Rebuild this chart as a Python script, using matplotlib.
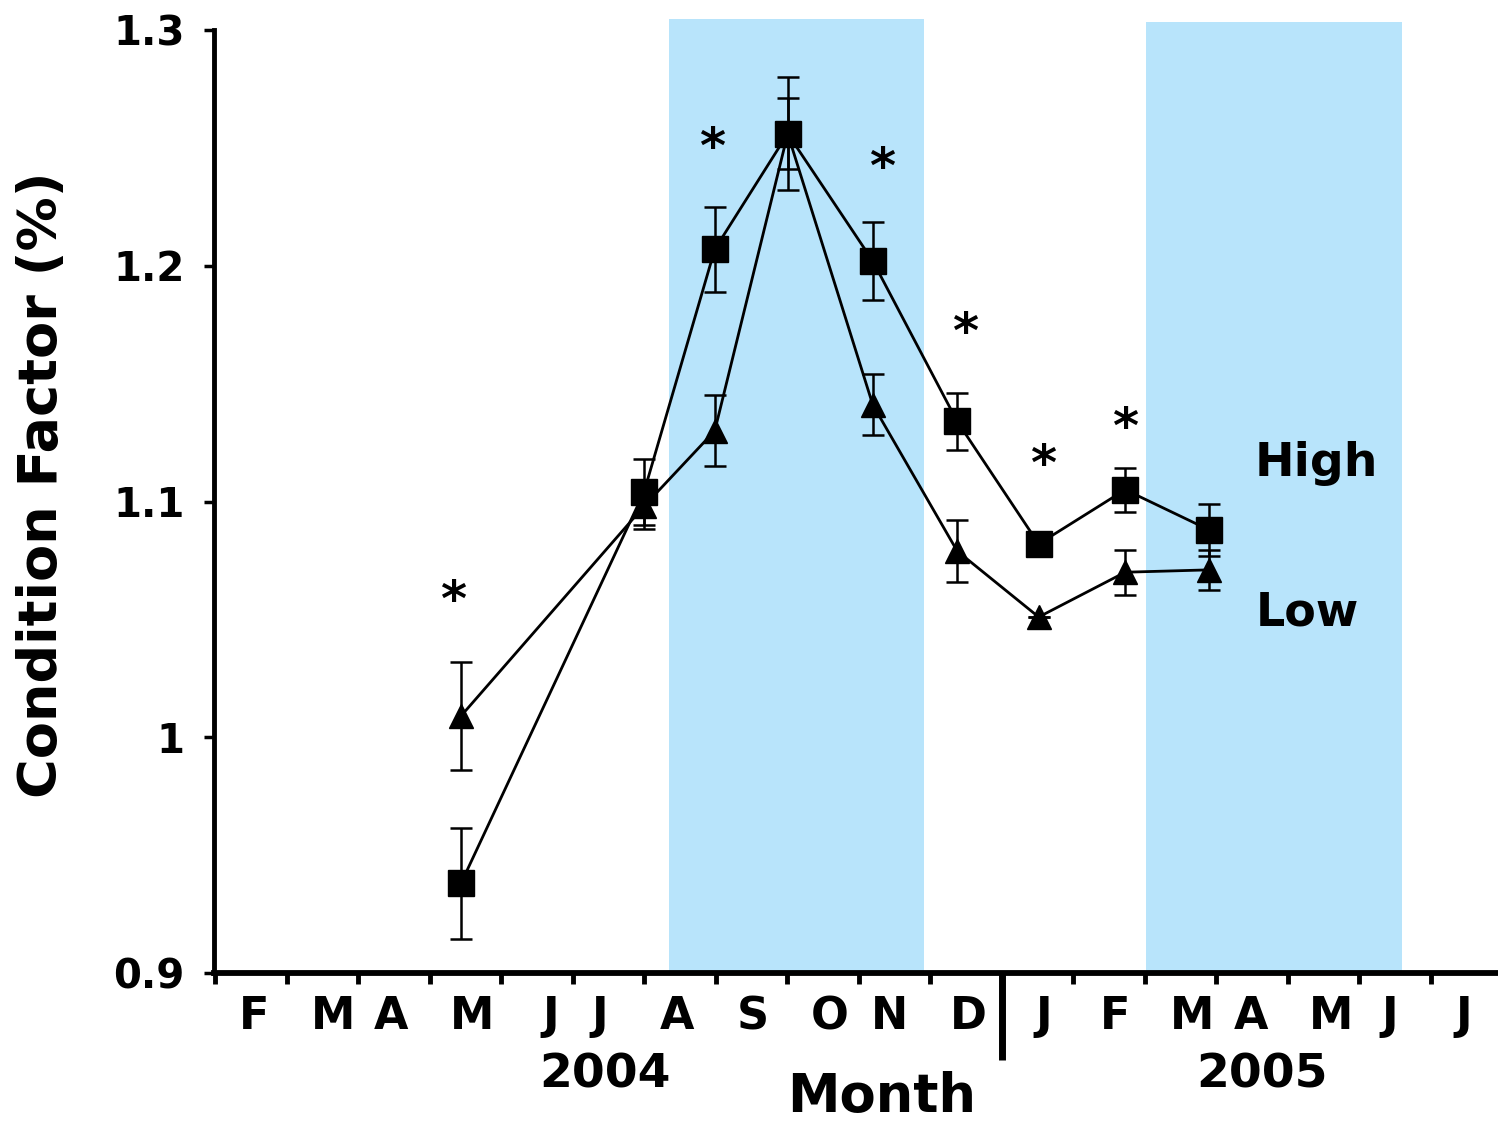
import matplotlib
matplotlib.use("Agg")
import matplotlib.pyplot as plt
from matplotlib.lines import Line2D
from matplotlib.patches import Rectangle
import matplotlib.transforms as mtransforms

# ---- data -------------------------------------------------------------
# sampling times, in months from the start of February 2004
sample_x = [3.44, 6.00, 6.99, 8.01, 9.20, 10.38, 11.52, 12.73, 13.90]

high_mean = [0.938, 1.104, 1.207, 1.256, 1.202, 1.134, 1.082, 1.105, 1.088]
high_se = [0.0235, 0.014, 0.018, 0.024, 0.0165, 0.012, 0.0, 0.0093, 0.011]

low_mean = [1.009, 1.098, 1.130, 1.256, 1.141, 1.079, 1.051, 1.070, 1.071]
low_se = [0.023, 0.0095, 0.015, 0.015, 0.013, 0.013, 0.0, 0.0095, 0.0085]

# months with a significant High/Low difference (asterisk positions)
sig_x = [3.33, 6.95, 9.33, 10.49, 11.58, 12.73]
sig_y = [1.061, 1.253, 1.2445, 1.1746, 1.1186, 1.1343]

month_labels = ["F", "M", "A", "M", "J", "J", "A", "S", "O", "N", "D",
                "J", "F", "M", "A", "M", "J", "J"]
month_label_pos = [0.55, 1.65, 2.46, 3.59, 4.69, 5.38, 6.46, 7.52, 8.60,
                   9.44, 10.53, 11.59, 12.59, 13.66, 14.49, 15.61, 16.43, 17.46]

# shaded seasons (start, end) in the same month units
seasons = [(6.35, 9.92), (13.02, 16.60)]

yticks = [0.9, 1.0, 1.1, 1.2, 1.3]
ytick_labels = ["0.9", "1", "1.1", "1.2", "1.3"]

# ---- figure -----------------------------------------------------------
FONT = "DejaVu Sans"
plt.rcParams["font.family"] = [FONT]
plt.rcParams["font.weight"] = "bold"

fig = plt.figure(figsize=(14.98, 11.24), dpi=100)
ax = fig.add_axes([214 / 1498, 1 - 973 / 1124, 1284 / 1498, 943 / 1124])
ax.set_xlim(-0.014, 17.944)
ax.set_ylim(0.9, 1.3)

shade = "#b8e4fb"
for (s0, s1), top in zip(seasons, [1.3047, 1.3034]):
    ax.add_patch(Rectangle((s0, 0.9), s1 - s0, top - 0.9, facecolor=shade,
                           edgecolor="none", zorder=0, clip_on=False))

# Low (triangles) drawn first, High (squares) on top
ax.plot(sample_x, low_mean, color="black", lw=2.0, zorder=3)
ax.errorbar(sample_x, low_mean, yerr=low_se, fmt="none", ecolor="black",
            elinewidth=1.8, capsize=8, capthick=1.8, zorder=3)
ax.plot(sample_x, low_mean, linestyle="none", marker="^", ms=17,
        color="black", zorder=4)

ax.plot(sample_x, high_mean, color="black", lw=2.0, zorder=5)
ax.errorbar(sample_x, high_mean, yerr=high_se, fmt="none", ecolor="black",
            elinewidth=1.8, capsize=8, capthick=1.8, zorder=5)
ax.plot(sample_x, high_mean, linestyle="none", marker="s", ms=19,
        color="black", zorder=6)

for x, y in zip(sig_x, sig_y):
    ax.annotate("*", (x, y), xytext=(0, -16), textcoords="offset points",
                ha="center", va="baseline", fontsize=36, fontweight="bold",
                zorder=7)

# series labels
ax.text(14.54, 1.111, "High", fontsize=34, fontweight="bold",
        ha="left", va="baseline")
ax.text(14.55, 1.0475, "Low", fontsize=33, fontweight="bold",
        ha="left", va="baseline")

# ---- axes styling -----------------------------------------------------
for side in ("top", "right"):
    ax.spines[side].set_visible(False)
ax.spines["bottom"].set_linewidth(4.2)
ax.spines["left"].set_linewidth(3.5)
ax.spines["left"].set_zorder(8)
ax.spines["bottom"].set_zorder(8)

ax.set_yticks(yticks)
ax.set_yticklabels(ytick_labels, fontsize=29, fontweight="bold")
ax.tick_params(axis="y", direction="out", length=7, width=2.5, pad=14)

ax.set_xticks(range(18))
ax.set_xticklabels([])
ax.tick_params(axis="x", which="major", direction="out", length=8, width=3.5)
ax.set_xticks(month_label_pos, minor=True)
ax.set_xticklabels(month_labels, minor=True, fontsize=32, fontweight="bold")
ax.tick_params(axis="x", which="minor", length=0, pad=16)

trans = mtransforms.blended_transform_factory(ax.transData, ax.transAxes)
ax.add_line(Line2D([11.0, 11.0], [0.0, -0.092], transform=trans,
                   color="black", lw=5, clip_on=False, solid_capstyle="butt"))
ax.text(5.45, -0.1209, "2004", transform=trans, fontsize=34,
        fontweight="bold", ha="center", va="baseline")
ax.text(14.64, -0.1209, "2005", transform=trans, fontsize=34,
        fontweight="bold", ha="center", va="baseline")
ax.text(9.33, -0.1474, "Month", transform=trans, fontsize=38,
        fontweight="bold", ha="center", va="baseline")

ax.set_ylabel("Condition Factor (%)", fontsize=39, fontweight="bold")
ax.yaxis.set_label_coords(-0.1137, 0.5175)

fig.savefig("out.png", dpi=100, facecolor="white")
